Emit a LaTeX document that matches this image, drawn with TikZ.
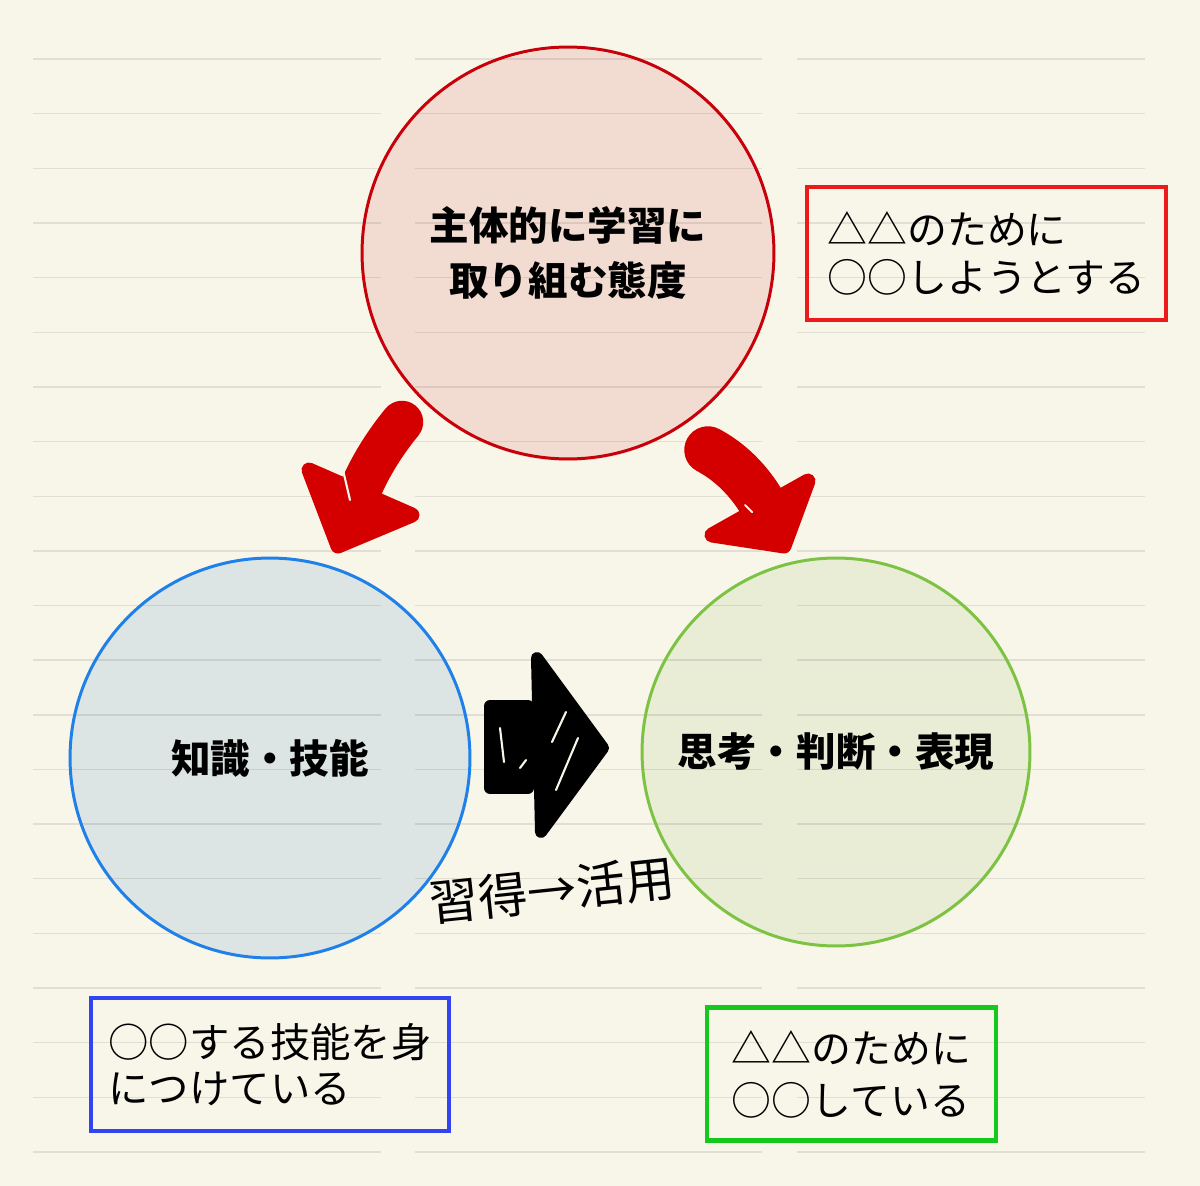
\documentclass[tikz,border=0pt]{standalone}
\usepackage{fontspec}
\setmainfont{Noto Sans CJK JP}
\usetikzlibrary{positioning}
\definecolor{paper}{HTML}{F8F6E9}
\definecolor{attline}{HTML}{C8000A}
\definecolor{attfill}{HTML}{F2DCD2}
\definecolor{knowline}{HTML}{1E80E8}
\definecolor{knowfill}{HTML}{DCE5E3}
\definecolor{thinkline}{HTML}{7CC243}
\definecolor{thinkfill}{HTML}{E9EDD6}
\definecolor{boxred}{HTML}{EC1A1A}
\definecolor{boxblue}{HTML}{3044F2}
\definecolor{boxgreen}{HTML}{14C81C}
\definecolor{pen}{HTML}{D40000}
\begin{document}
\begin{tikzpicture}[x=0.02cm,y=-0.02cm,
    ring/.style={circle,draw=#1,line width=1.7pt,inner sep=0pt,align=center,
      font=\fontsize{22.5}{31}\selectfont\bfseries},
    notebox/.style={rectangle,draw=#1,line width=2.4pt,inner sep=0pt,align=left,
      minimum height=2.66cm},
    gap/.style={paper,line width=1.2pt,line cap=round}]
    % paper
    \fill[paper] (0,0) rectangle (1200,1186);
    \fill[attfill] (568,255) circle[radius=206];
    \fill[knowfill] (270,758) circle[radius=200];
    \fill[thinkfill] (836,752) circle[radius=194];
    \foreach \i in {0,...,20}{
      \draw[black,opacity=0.09,line width=0.8pt] (33,{59+\i*54.65}) -- (381,{59+\i*54.65});
      \draw[black,opacity=0.09,line width=0.8pt] (415,{59+\i*54.65}) -- (762,{59+\i*54.65});
      \draw[black,opacity=0.09,line width=0.8pt] (797,{59+\i*54.65}) -- (1145,{59+\i*54.65});
    };
    % circles
    \node[ring=attline,minimum size=8.24cm] (attitude) at (568,253) {主体的に学習に\\取り組む態度};
    \node[ring=knowline,minimum size=8cm] (knowledge) at (270,758) {知識・技能};
    \node[ring=thinkline,minimum size=7.76cm] (thinking) at (836,752) {思考・判断・表現};
    % boxes
    \node[notebox=boxred,minimum width=7.18cm,font=\fontsize{22.7}{27.3}\selectfont] (attnote) at (986.5,253.5) {△△のために\\○○しようとする};
    \node[notebox=boxblue,minimum width=7.16cm,font=\fontsize{23}{26.2}\selectfont] (knownote) at (270,1064.5) {○○する技能を身\\につけている};
    \node[notebox=boxgreen,minimum width=5.78cm,font=\fontsize{22.7}{29.6}\selectfont] (thinknote) at (851.5,1074) {△△のために\\○○している};
    % red arrows
    \draw[pen,line width=0.85cm,line cap=round] (402,422) .. controls (375,455) and (357,490) .. (350,522);
    \filldraw[pen,line width=0.3cm,line join=round] (309,470) -- (412,515) -- (338,546) -- cycle;
    \draw[gap] (343,470) -- (350,500);
    \draw[pen,line width=0.95cm,line cap=round] (708,450) .. controls (738,466) and (758,492) .. (770,518);
    \filldraw[pen,line width=0.3cm,line join=round] (808,481) -- (712,535) -- (784,546) -- cycle;
    \draw[gap] (745,505) -- (752,512);
    % black arrow
    \filldraw[line width=0.24cm,line join=round] (490,706) rectangle (528,788);
    \filldraw[line width=0.24cm,line join=round] (537,658) -- (603,748) -- (541,832) -- cycle;
    \draw[gap] (500,728) -- (504,762);
    \draw[gap] (552,742) -- (566,712);
    \draw[gap] (556,790) -- (578,738);
    \draw[gap] (520,768) -- (526,760);
    \node[rotate=6,font=\fontsize{28}{28}\selectfont] (skill) at (552,890) {習得→活用};
  \end{tikzpicture}
\end{document}
